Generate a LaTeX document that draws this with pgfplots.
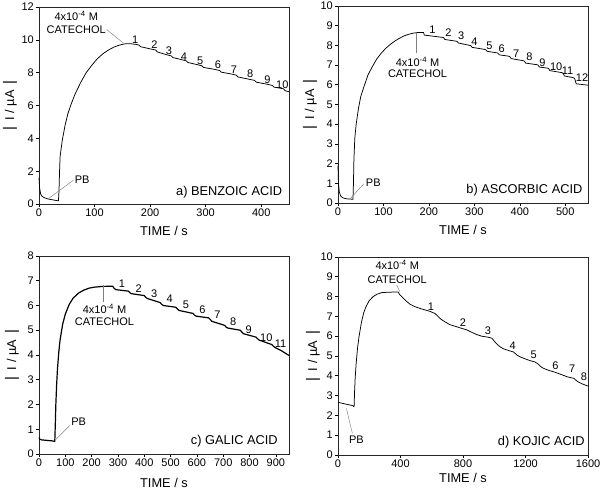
\documentclass[border=0pt]{standalone}
\usepackage{fontspec}
\setmainfont{Liberation Sans}
\usepackage{pgfplots}
\pgfplotsset{compat=1.18}
\newcommand{\vb}{\raisebox{0.4pt}{\fontsize{15}{15}\selectfont|}}
\pgfplotsset{
  myax/.style={
    scale only axis, width=250pt, height=197pt,
    xmin=0, ymin=0, clip=false,
    axis line style={line width=0.7pt, black!85},
    tick align=outside, xtick pos=bottom, ytick pos=left,
    tick style={black, line width=0.6pt}, major tick length=3pt,
    ticklabel style={font=\fontsize{11}{13}\selectfont},
    xticklabel style={inner sep=1.5pt},
    yticklabel style={inner sep=2pt},
    label style={font=\fontsize{12.8}{15}\selectfont},
    xlabel={TIME / s},
    ylabel={\vb\enspace I / µA\enspace\vb},
    /pgf/number format/assume math mode=true,
    /pgf/number format/1000 sep={},
  },
}
\tikzset{
  lead/.style={gray, line width=0.45pt},
  ann/.style={font=\fontsize{11}{13}\selectfont, inner sep=0pt},
  plab/.style={font=\fontsize{12.8}{15}\selectfont, inner sep=0pt, anchor=east},
  curve/.style={black, line width=0.75pt, line join=round},
}
\begin{document}
\begin{tikzpicture}
\useasboundingbox (0,0) rectangle (600pt,489pt);

% ---------------- a) BENZOIC ACID
\begin{axis}[myax, at={(39pt,285pt)}, anchor=south west,
  xmax=450, ymax=12, xtick={0,100,...,400}, ytick={0,2,...,12},
  xlabel style={at={(axis description cs:0.5,-0.135)}, anchor=center},
  ylabel style={at={(axis description cs:-0.116,0.5)}, anchor=center}]
\addplot[curve] coordinates {
(0,1.6)(1,1.0)(3,0.6)(6,0.45)(10,0.38)(15,0.32)(20,0.28)(25,0.25)(30,0.22)(35,0.19)
(36,0.8)(37,2.0)(38,2.9)(42,3.9)(47,4.8)(52,5.5)(58,6.1)(65,6.7)(75,7.4)(85,8.0)
(95,8.45)(105,8.85)(115,9.15)(125,9.38)(135,9.56)(145,9.68)(155,9.76)(165,9.76)(175,9.72)
(180,9.68)(183,9.58)(200,9.45)(210,9.38)(213,9.26)(231,9.08)(238,9.02)(241,8.92)
(258,8.78)(265,8.72)(268,8.62)(286,8.48)(293,8.42)(296,8.32)(316,8.2)(325,8.13)
(328,8.03)(346,7.92)(355,7.85)(358,7.74)(378,7.60)(388,7.53)(391,7.42)(410,7.30)
(420,7.22)(423,7.12)(433,7.06)(440,7.02)(443,6.90)(450,6.84)};
\node[ann] at (axis cs:67,11.44) {4x10\textsuperscript{-4} M};
\node[ann] at (axis cs:67,10.59) {CATECHOL};
\draw[lead] (axis cs:122,10.62) -- (axis cs:152,9.8);
\node[ann, anchor=west] at (axis cs:64,1.46) {PB};
\draw[lead] (axis cs:62,1.45) -- (axis cs:17,0.33);
\node[plab] at (axis cs:438,0.69) {a) BENZOIC ACID};
\node[ann] at (axis cs:173,10.02) {1};
\node[ann] at (axis cs:208,9.68) {2};
\node[ann] at (axis cs:234,9.33) {3};
\node[ann] at (axis cs:261,8.97) {4};
\node[ann] at (axis cs:290,8.72) {5};
\node[ann] at (axis cs:322,8.46) {6};
\node[ann] at (axis cs:351,8.19) {7};
\node[ann] at (axis cs:380,7.91) {8};
\node[ann] at (axis cs:411,7.59) {9};
\node[ann] at (axis cs:438,7.24) {10};
\end{axis}

% ---------------- b) ASCORBIC ACID
\begin{axis}[myax, at={(338pt,286pt)}, anchor=south west,
  xmax=550, ymax=10, xtick={0,100,...,500}, ytick={0,1,...,10},
  xlabel style={at={(axis description cs:0.5,-0.137)}, anchor=center},
  ylabel style={at={(axis description cs:-0.112,0.5)}, anchor=center}]
\addplot[curve] coordinates {
(0,1.9)(1,1.0)(3,0.55)(6,0.35)(10,0.27)(15,0.23)(20,0.21)(33,0.19)(34,1.0)(35,2.2)
(37,3.3)(40,4.0)(45,4.8)(50,5.4)(57,5.9)(66,6.5)(75,6.9)(85,7.3)(95,7.6)(105,7.85)
(115,8.05)(125,8.22)(135,8.36)(145,8.48)(155,8.56)(165,8.62)(175,8.65)(188,8.66)
(190,8.52)(205,8.48)(232,8.40)(235,8.30)(258,8.22)(262,8.20)(265,8.12)(290,8.00)
(292,7.99)(295,7.90)(322,7.80)(325,7.78)(328,7.70)(350,7.62)(352,7.60)(355,7.52)
(376,7.45)(378,7.43)(381,7.33)(408,7.22)(410,7.20)(413,7.10)(438,7.02)(440,7.00)
(443,6.90)(463,6.84)(466,6.72)(492,6.62)(495,6.60)(498,6.45)(518,6.36)(521,6.30)
(524,6.05)(550,5.98)};
\node[ann] at (axis cs:175,7.18) {4x10\textsuperscript{-4} M};
\node[ann] at (axis cs:175,6.55) {CATECHOL};
\draw[lead] (axis cs:172,8.62) -- (axis cs:172,7.6);
\node[ann, anchor=west] at (axis cs:61,1.05) {PB};
\draw[lead] (axis cs:57,0.98) -- (axis cs:26,0.2);
\node[plab] at (axis cs:538,0.63) {b) ASCORBIC ACID};
\node[ann] at (axis cs:208,8.82) {1};
\node[ann] at (axis cs:243,8.65) {2};
\node[ann] at (axis cs:271,8.48) {3};
\node[ann] at (axis cs:300,8.19) {4};
\node[ann] at (axis cs:333,7.97) {5};
\node[ann] at (axis cs:360,7.85) {6};
\node[ann] at (axis cs:392,7.6) {7};
\node[ann] at (axis cs:421,7.4) {8};
\node[ann] at (axis cs:450,7.13) {9};
\node[ann] at (axis cs:480,6.92) {10};
\node[ann] at (axis cs:505,6.72) {11};
\node[ann] at (axis cs:537,6.34) {12};
\end{axis}

% ---------------- c) GALIC ACID
\begin{axis}[myax, at={(39pt,35pt)}, anchor=south west, height=198pt,
  xmax=950, ymax=8, xtick={0,100,...,900}, ytick={0,1,...,8},
  xlabel style={at={(axis description cs:0.5,-0.145)}, anchor=center},
  ylabel style={at={(axis description cs:-0.108,0.5)}, anchor=center}]
\addplot[curve, line width=1.2pt] coordinates {
(0,0.66)(3,0.6)(10,0.57)(30,0.55)(50,0.53)(60,0.51)(62,1.2)(64,2.0)(67,2.8)(70,3.4)
(75,4.1)(80,4.6)(90,5.25)(100,5.65)(115,6.05)(130,6.3)(150,6.5)(170,6.62)(190,6.7)
(210,6.74)(240,6.77)(280,6.78)(285,6.7)(292,6.64)(300,6.63)(340,6.58)(345,6.52)
(350,6.48)(400,6.4)(405,6.34)(412,6.28)(460,6.12)(465,6.06)(472,6.0)(520,5.93)
(525,5.87)(532,5.8)(585,5.68)(590,5.62)(597,5.57)(645,5.5)(650,5.44)(657,5.36)
(705,5.2)(710,5.14)(717,5.09)(765,5.0)(770,4.93)(777,4.86)(825,4.72)(830,4.66)
(837,4.6)(885,4.42)(890,4.36)(897,4.3)(920,4.18)(950,3.98)};
\node[ann] at (axis cs:249,5.85) {4x10\textsuperscript{-4} M};
\node[ann] at (axis cs:249,5.34) {CATECHOL};
\draw[lead] (axis cs:243,6.82) -- (axis cs:243,6.15);
\node[ann, anchor=west] at (axis cs:122,1.32) {PB};
\draw[lead] (axis cs:117,1.15) -- (axis cs:60,0.55);
\node[plab] at (axis cs:908,0.51) {c) GALIC ACID};
\node[ann] at (axis cs:315,6.89) {1};
\node[ann] at (axis cs:379,6.68) {2};
\node[ann] at (axis cs:438,6.48) {3};
\node[ann] at (axis cs:497,6.28) {4};
\node[ann] at (axis cs:558,6.01) {5};
\node[ann] at (axis cs:621,5.81) {6};
\node[ann] at (axis cs:678,5.61) {7};
\node[ann] at (axis cs:738,5.34) {8};
\node[ann] at (axis cs:797,5.03) {9};
\node[ann] at (axis cs:864,4.71) {10};
\node[ann] at (axis cs:918,4.47) {11};
\end{axis}

% ---------------- d) KOJIC ACID
\begin{axis}[myax, at={(338pt,34pt)}, anchor=south west, height=198pt,
  xmax=1600, ymax=10, xtick={0,400,...,1600}, ytick={0,1,...,10},
  xlabel style={at={(axis description cs:0.5,-0.116)}, anchor=center},
  ylabel style={at={(axis description cs:-0.1,0.5)}, anchor=center}]
\addplot[curve] coordinates {
(0,2.66)(96,2.49)(100,2.45)(103,2.44)(106,3.2)(110,3.9)(116,4.6)(125,5.4)(135,6.0)
(150,6.7)(165,7.2)(180,7.5)(200,7.8)(225,8.0)(250,8.12)(280,8.2)(320,8.22)(360,8.23)
(385,8.23)(395,8.1)(418,7.92)(440,7.75)(460,7.62)(490,7.5)(525,7.4)(560,7.32)
(590,7.25)(620,7.15)(640,7.0)(660,6.85)(690,6.7)(717,6.58)(750,6.5)(782,6.42)
(824,6.32)(860,6.18)(889,6.08)(920,6.0)(960,5.95)(985,5.9)(1000,5.75)(1017,5.6)
(1040,5.45)(1060,5.36)(1090,5.28)(1124,5.2)(1145,5.05)(1167,4.95)(1200,4.85)
(1231,4.76)(1260,4.7)(1280,4.6)(1300,4.45)(1317,4.37)(1350,4.27)(1381,4.2)
(1424,4.08)(1467,3.95)(1510,3.87)(1531,3.72)(1560,3.6)(1600,3.48)};
\node[ann] at (axis cs:379,9.58) {4x10\textsuperscript{-4} M};
\node[ann] at (axis cs:379,8.87) {CATECHOL};
\draw[lead] (axis cs:375,8.6) -- (axis cs:396,8.25);
\node[ann] at (axis cs:118,0.76) {PB};
\draw[lead] (axis cs:92,1.09) -- (axis cs:54,2.35);
\node[plab] at (axis cs:1580,0.64) {d) KOJIC ACID};
\node[ann] at (axis cs:595,7.48) {1};
\node[ann] at (axis cs:799,6.67) {2};
\node[ann] at (axis cs:959,6.3) {3};
\node[ann] at (axis cs:1118,5.51) {4};
\node[ann] at (axis cs:1253,5.04) {5};
\node[ann] at (axis cs:1392,4.49) {6};
\node[ann] at (axis cs:1499,4.37) {7};
\node[ann] at (axis cs:1574,3.95) {8};
\end{axis}
\end{tikzpicture}
\end{document}
